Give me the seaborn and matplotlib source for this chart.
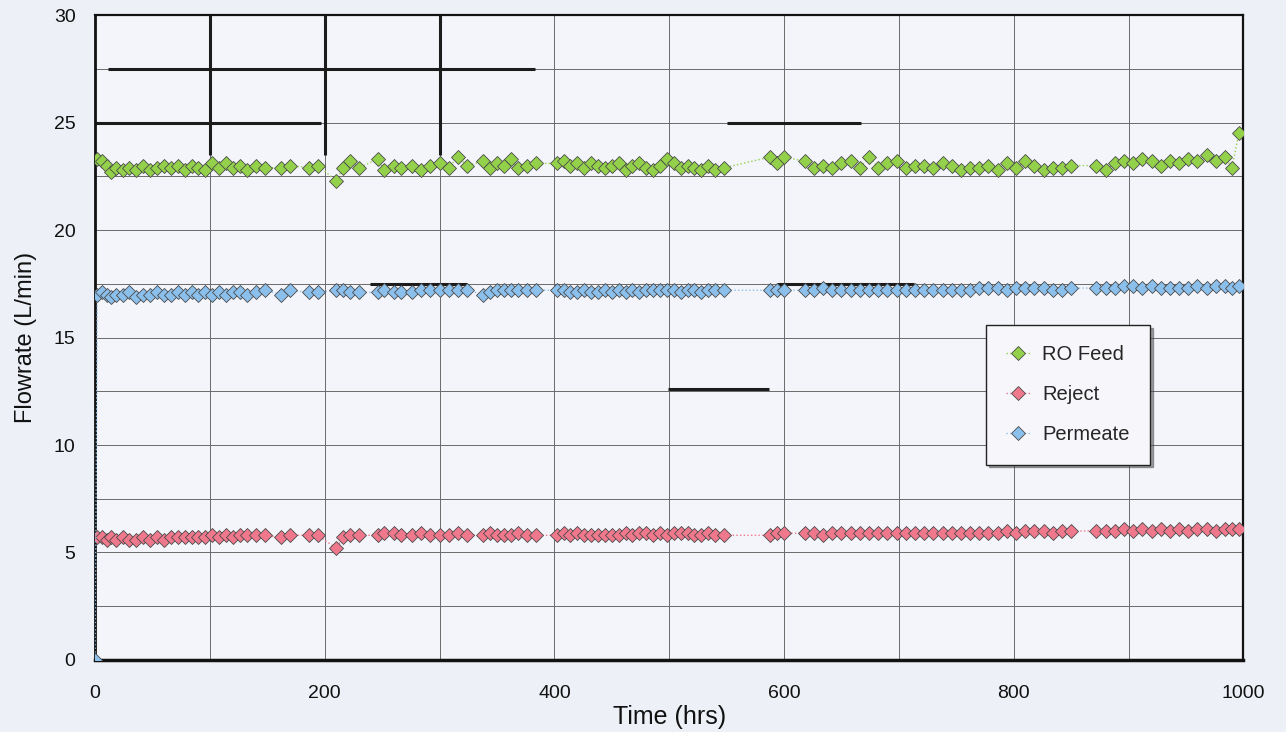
import matplotlib
matplotlib.use("Agg")
import matplotlib.pyplot as plt
import seaborn as sns
import pandas as pd

# operating time (hrs)
hours = [2, 6, 10, 14, 18, 24, 30, 36, 42, 48,
         54, 60, 66, 72, 78, 84, 90, 96, 102, 108,
         114, 120, 126, 132, 140, 148, 162, 170, 186, 194,
         210, 216, 222, 230, 246, 252, 260, 266, 276, 284,
         292, 300, 308, 316, 324, 338, 344, 350, 356, 362,
         368, 376, 384, 402, 408, 414, 420, 426, 432, 438,
         444, 450, 456, 462, 468, 474, 480, 486, 492, 498,
         504, 510, 516, 522, 528, 534, 540, 548, 588, 594,
         600, 618, 626, 634, 642, 650, 658, 666, 674, 682,
         690, 698, 706, 714, 722, 730, 738, 746, 754, 762,
         770, 778, 786, 794, 802, 810, 818, 826, 834, 842,
         850, 872, 880, 888, 896, 904, 912, 920, 928, 936,
         944, 952, 960, 968, 976, 984, 990, 996]

ro_feed = [23.3, 23.2, 23.0, 22.7, 22.9, 22.8, 22.9, 22.8, 23.0, 22.8,
           22.9, 23.0, 22.9, 23.0, 22.8, 23.0, 22.9, 22.8, 23.1, 22.9,
           23.1, 22.9, 23.0, 22.8, 23.0, 22.9, 22.9, 23.0, 22.9, 23.0,
           22.3, 22.9, 23.2, 22.9, 23.3, 22.8, 23.0, 22.9, 23.0, 22.8,
           23.0, 23.1, 22.9, 23.4, 23.0, 23.2, 22.9, 23.1, 23.0, 23.3,
           22.9, 23.0, 23.1, 23.1, 23.2, 23.0, 23.1, 22.9, 23.1, 23.0,
           22.9, 23.0, 23.1, 22.8, 23.0, 23.1, 22.9, 22.8, 23.0, 23.3,
           23.1, 22.9, 23.0, 22.9, 22.8, 23.0, 22.8, 22.9, 23.4, 23.1,
           23.4, 23.2, 22.9, 23.0, 22.9, 23.1, 23.2, 22.9, 23.4, 22.9,
           23.1, 23.2, 22.9, 23.0, 23.0, 22.9, 23.1, 23.0, 22.8, 22.9,
           22.9, 23.0, 22.8, 23.1, 22.9, 23.2, 23.0, 22.8, 22.9, 22.9,
           23.0, 23.0, 22.8, 23.1, 23.2, 23.1, 23.3, 23.2, 23.0, 23.2,
           23.1, 23.3, 23.2, 23.5, 23.2, 23.4, 22.9, 24.5]

permeate = [17.0, 17.1, 17.0, 16.9, 17.0, 17.0, 17.1, 16.9, 17.0, 17.0,
            17.1, 17.0, 17.0, 17.1, 17.0, 17.1, 17.0, 17.1, 17.0, 17.1,
            17.0, 17.1, 17.1, 17.0, 17.1, 17.2, 17.0, 17.2, 17.1, 17.1,
            17.2, 17.2, 17.1, 17.1, 17.1, 17.2, 17.1, 17.1, 17.1, 17.2,
            17.2, 17.2, 17.2, 17.2, 17.2, 17.0, 17.1, 17.2, 17.2, 17.2,
            17.2, 17.2, 17.2, 17.2, 17.2, 17.1, 17.1, 17.2, 17.1, 17.1,
            17.2, 17.1, 17.2, 17.1, 17.2, 17.1, 17.2, 17.2, 17.2, 17.2,
            17.2, 17.1, 17.2, 17.2, 17.1, 17.2, 17.2, 17.2, 17.2, 17.2,
            17.2, 17.2, 17.2, 17.3, 17.2, 17.2, 17.2, 17.2, 17.2, 17.2,
            17.2, 17.2, 17.2, 17.2, 17.2, 17.2, 17.2, 17.2, 17.2, 17.2,
            17.3, 17.3, 17.3, 17.2, 17.3, 17.3, 17.3, 17.3, 17.2, 17.2,
            17.3, 17.3, 17.3, 17.3, 17.4, 17.4, 17.3, 17.4, 17.3, 17.3,
            17.3, 17.3, 17.4, 17.3, 17.4, 17.4, 17.3, 17.4]

reject = [5.7, 5.7, 5.6, 5.7, 5.6, 5.7, 5.6, 5.6, 5.7, 5.6,
          5.7, 5.6, 5.7, 5.7, 5.7, 5.7, 5.7, 5.7, 5.8, 5.7,
          5.8, 5.7, 5.8, 5.8, 5.8, 5.8, 5.7, 5.8, 5.8, 5.8,
          5.2, 5.7, 5.8, 5.8, 5.8, 5.9, 5.9, 5.8, 5.8, 5.9,
          5.8, 5.8, 5.8, 5.9, 5.8, 5.8, 5.9, 5.8, 5.8, 5.8,
          5.9, 5.8, 5.8, 5.8, 5.9, 5.8, 5.9, 5.8, 5.8, 5.8,
          5.8, 5.8, 5.8, 5.9, 5.8, 5.9, 5.9, 5.8, 5.9, 5.8,
          5.9, 5.9, 5.9, 5.8, 5.8, 5.9, 5.8, 5.8, 5.8, 5.9,
          5.9, 5.9, 5.9, 5.8, 5.9, 5.9, 5.9, 5.9, 5.9, 5.9,
          5.9, 5.9, 5.9, 5.9, 5.9, 5.9, 5.9, 5.9, 5.9, 5.9,
          5.9, 5.9, 5.9, 6.0, 5.9, 6.0, 6.0, 6.0, 5.9, 6.0,
          6.0, 6.0, 6.0, 6.0, 6.1, 6.0, 6.1, 6.0, 6.1, 6.0,
          6.1, 6.0, 6.1, 6.1, 6.0, 6.1, 6.1, 6.1]

# start-up reading of the permeate meter
perm_start_hours = [0]
perm_start_value = [0.0]

series_names = ["RO Feed", "Reject", "Permeate"]
colors = {"RO Feed": "#93d14a", "Reject": "#f0788c", "Permeate": "#8cc0ec"}

df = pd.concat([
    pd.DataFrame({"Time": hours, "Flow": ro_feed, "Stream": "RO Feed"}),
    pd.DataFrame({"Time": hours, "Flow": reject, "Stream": "Reject"}),
    pd.DataFrame({"Time": perm_start_hours + hours,
                  "Flow": perm_start_value + permeate, "Stream": "Permeate"}),
], ignore_index=True)

sns.set_theme(style="white")
plt.rcParams["font.family"] = ["Liberation Sans", "DejaVu Sans"]

fig = plt.figure(figsize=(12.86, 7.32), dpi=100, facecolor="#eef0f8")
ax = fig.add_axes([0.0739, 0.0984, 0.893, 0.881])
ax.set_facecolor("#f4f5fb")

sns.lineplot(data=df, x="Time", y="Flow", hue="Stream", hue_order=series_names,
             palette=colors, marker="D", markersize=7.5, markeredgecolor="#4a4a4a",
             markeredgewidth=0.6, linestyle=":", linewidth=1.0, sort=False,
             estimator=None, ax=ax, zorder=3)

ax.set_xlim(0, 1000)
ax.set_ylim(0, 30)
ax.set_xticks(range(0, 1001, 200))
ax.set_xticks(range(0, 1001, 100), minor=True)
ax.set_yticks(range(0, 31, 5))
ax.set_yticks([i * 2.5 for i in range(13)], minor=True)
ax.grid(True, which="both", color="#6a6a6a", linewidth=0.7)
ax.set_axisbelow(True)

# darker grid pieces visible in the scanned original
ax.vlines([100, 200, 300], 23.5, 30, color="#1c1c1c", linewidth=2.2)
ax.hlines([27.5, 25, 25, 17.5, 17.5, 12.6],
          [11, 0, 550, 239, 594, 499], [383, 197, 667, 324, 713, 587],
          color="#1c1c1c", linewidth=2.2)

for side in ["left", "bottom", "top", "right"]:
    ax.spines[side].set_color("#111111")
ax.spines["left"].set_linewidth(2.0)
ax.spines["bottom"].set_linewidth(2.5)
ax.spines["top"].set_linewidth(1.6)
ax.spines["right"].set_linewidth(1.6)

ax.tick_params(axis="x", which="both", length=0, labelsize=14, pad=18,
               colors="#111111")
ax.tick_params(axis="y", which="both", length=0, labelsize=14, pad=14,
               colors="#111111")
ax.set_xlabel("Time (hrs)", fontsize=18, labelpad=2, color="#111111")
ax.set_ylabel("Flowrate (L/min)", fontsize=17, labelpad=12, color="#111111")

handles, labels = ax.get_legend_handles_labels()
leg = ax.legend(handles, labels, loc="upper left", bbox_to_anchor=(0.767, 0.535),
                fontsize=14.5, frameon=True, fancybox=False, shadow=True,
                borderpad=1.0, labelspacing=1.05, handlelength=1.2,
                handletextpad=0.6, edgecolor="#222222")
leg.get_frame().set_facecolor("#f7f7fb")
leg.get_frame().set_linewidth(1.0)

fig.savefig("out.png", dpi=100, facecolor=fig.get_facecolor())
